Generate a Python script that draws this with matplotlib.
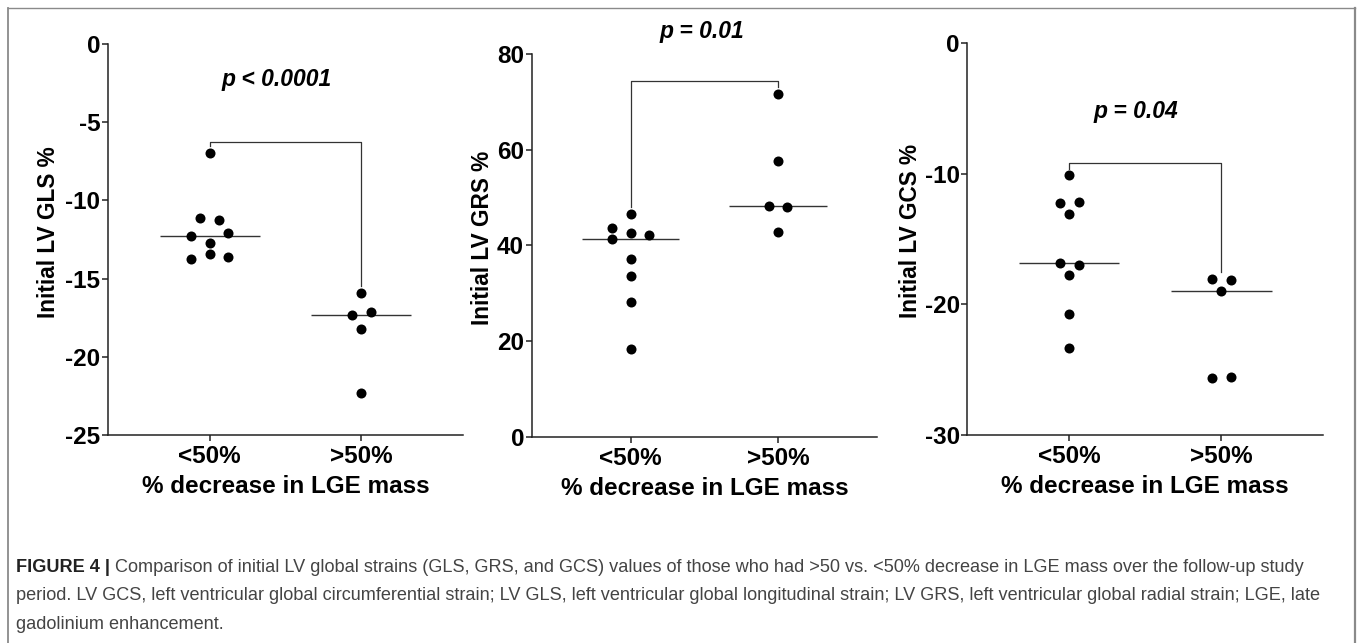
import numpy as np
import matplotlib.pyplot as plt
from matplotlib.lines import Line2D

plt.rcParams['font.family'] = ['Liberation Sans', 'DejaVu Sans']
plt.rcParams['axes.unicode_minus'] = False

# Values
groups = ["<50%", ">50%"]

gls_lt50 = [-7.0, -11.15, -11.25, -12.3, -12.1, -12.75, -13.75, -13.4, -13.65]
gls_gt50 = [-15.95, -17.33, -17.15, -18.25, -22.33]
grs_lt50 = [46.5, 43.7, 42.7, 42.2, 41.3, 37.2, 33.7, 28.2, 18.3]
grs_gt50 = [71.7, 57.7, 48.3, 48.0, 42.9]
gcs_lt50 = [-10.1, -12.2, -12.15, -13.05, -16.85, -16.95, -17.75, -20.75, -23.35]
gcs_gt50 = [-18.05, -18.1, -18.95, -25.6, -25.55]

p_texts = ["p < 0.0001", "p = 0.01", "p = 0.04"]
y_labels = ["Initial LV GLS %", "Initial LV GRS %", "Initial LV GCS %"]
x_label = "% decrease in LGE mass"

# horizontal spread of the dots inside each column (in dot steps)
gls_dx = ([0, -0.5, 0.5, -1, 1, 0, -1, 0, 1], [0, -0.5, 0.5, 0, 0])
grs_dx = ([0, -1, 0, 1, -1, 0, 0, 0, 0], [0, 0, -0.5, 0.5, 0])
gcs_dx = ([0, -0.5, 0.5, 0, -0.5, 0.5, 0, 0, 0], [-0.5, 0.5, 0, -0.5, 0.5])

panels = [
    dict(rect=[0.0796, 0.3235, 0.2616, 0.6081], data=(gls_lt50, gls_gt50), dx=gls_dx,
         ylim=(-25, 0), yticks=[-25, -20, -15, -10, -5, 0],
         bracket=(-6.24, -6.5, -15.5), p_xy=(0.44, -2.3), ylab_x=-0.135),
    dict(rect=[0.3918, 0.3204, 0.2545, 0.5956], data=(grs_lt50, grs_gt50), dx=grs_dx,
         ylim=(0, 80), yticks=[0, 20, 40, 60, 80],
         bracket=(74.4, 48.1, 73.1), p_xy=(0.48, 84.7), ylab_x=-0.108),
    dict(rect=[0.7128, 0.3235, 0.2624, 0.6092], data=(gcs_lt50, gcs_gt50), dx=gcs_dx,
         ylim=(-30, 0), yticks=[-30, -20, -10, 0],
         bracket=(-9.14, -9.65, -17.5), p_xy=(0.435, -5.23), ylab_x=-0.126),
]

step = 0.123
half_w = 0.33
line_col = "#333333"

fig = plt.figure(figsize=(13.57, 6.43), dpi=100)

for i, pnl in enumerate(panels):
    ax = fig.add_axes(pnl["rect"])
    for j, vals in enumerate(pnl["data"]):
        xs = j + np.array(pnl["dx"][j]) * step
        ax.scatter(xs, vals, s=52, color="black", zorder=3, linewidths=0)
        med = np.median(vals)
        ax.hlines(med, j - half_w, j + half_w, color=line_col, lw=1.0, zorder=2)

    top, lbot, rbot = pnl["bracket"]
    ax.plot([0, 0, 1, 1], [lbot, top, top, rbot], color=line_col, lw=0.9, clip_on=False)
    ax.text(pnl["p_xy"][0], pnl["p_xy"][1], p_texts[i], ha="center", va="center",
            fontsize=16.5, fontweight="bold", fontstyle="italic", clip_on=False)

    ax.set_xlim(-0.67, 1.67)
    ax.set_ylim(*pnl["ylim"])
    ax.set_yticks(pnl["yticks"])
    ax.set_xticks([0, 1])
    ax.set_xticklabels(groups)
    for lab in ax.get_xticklabels() + ax.get_yticklabels():
        lab.set_fontweight("bold")
        lab.set_fontsize(17.5)
    ax.tick_params(direction="out", length=4, width=1.1, color="#222222")
    ax.tick_params(axis="y", pad=1.5)
    ax.tick_params(axis="x", pad=3)
    ax.spines["top"].set_visible(False)
    ax.spines["right"].set_visible(False)
    for s in ["left", "bottom"]:
        ax.spines[s].set_linewidth(1.1)
        ax.spines[s].set_color("#222222")

    ax.set_ylabel(y_labels[i], fontsize=16.3, fontweight="bold")
    ax.yaxis.set_label_coords(pnl["ylab_x"], 0.52)
    ax.set_xlabel(x_label, fontsize=17.5, fontweight="bold", labelpad=5)

# frame around the figure panel
W, H = 1357, 643
frame_col = "#8a8a8a"
fig.add_artist(Line2D([8 / W, 8 / W], [0, 1 - 8 / H], color=frame_col, lw=1.3))
fig.add_artist(Line2D([8 / W, 1355 / W], [1 - 8 / H, 1 - 8 / H], color=frame_col, lw=1.0))
fig.add_artist(Line2D([1355 / W, 1355 / W], [0, 1 - 8 / H], color=frame_col, lw=1.6))

# caption
cap_size = 13.05
bold_part = fig.text(16 / W, 1 - 572 / H, "FIGURE 4 |", fontsize=cap_size,
                     fontweight="bold", color="#222222", va="baseline")
fig.canvas.draw()
bb = bold_part.get_window_extent()
line1 = ("Comparison of initial LV global strains (GLS, GRS, and GCS) values of those who had "
         ">50 vs. <50% decrease in LGE mass over the follow-up study")
line2 = ("period. LV GCS, left ventricular global circumferential strain; LV GLS, left ventricular "
         "global longitudinal strain; LV GRS, left ventricular global radial strain; LGE, late")
line3 = "gadolinium enhancement."
fig.text((bb.x1 + 5) / W, 1 - 572 / H, line1, fontsize=cap_size, color="#444444", va="baseline")
fig.text(16 / W, 1 - 600.5 / H, line2, fontsize=cap_size, color="#444444", va="baseline")
fig.text(16 / W, 1 - 629 / H, line3, fontsize=cap_size, color="#444444", va="baseline")

fig.savefig("out.png", dpi=100)
